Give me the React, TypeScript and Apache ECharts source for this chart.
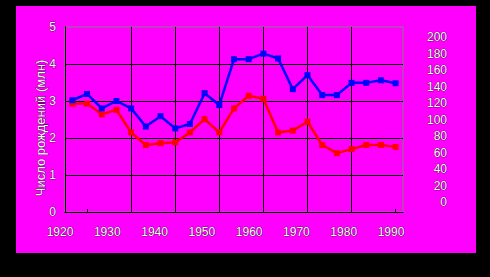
import React, { useEffect, useRef } from "react";
import * as echarts from "echarts";

// 23 observation points, evenly spaced (about 3.3 years apart)
const pointPeriods = [
  "1921", "1925", "1928", "1932", "1935", "1938", "1942", "1945", "1948", "1952",
  "1955", "1958", "1962", "1965", "1968", "1972", "1975", "1978", "1982", "1985",
  "1988", "1992", "1995",
];
const blueSeries = [
  3.02, 3.19, 2.8, 3.0, 2.8, 2.31, 2.59, 2.26, 2.38, 3.21,
  2.89, 4.13, 4.13, 4.28, 4.15, 3.32, 3.7, 3.16, 3.16, 3.49,
  3.49, 3.56, 3.48,
];
const redSeries = [
  2.93, 2.93, 2.64, 2.76, 2.15, 1.81, 1.86, 1.88, 2.15, 2.51,
  2.15, 2.8, 3.14, 3.06, 2.15, 2.2, 2.44, 1.81, 1.59, 1.7,
  1.81, 1.81, 1.76,
];
const xTickLabels = [1920, 1930, 1940, 1950, 1960, 1970, 1980, 1990];
const leftTicks = [0, 1, 2, 3, 4, 5];
const rightTicks = [0, 20, 40, 60, 80, 100, 120, 140, 160, 180, 200];
const yTitle = "Число рождений (млн)";

const FONT = "'Liberation Sans Narrow', 'Liberation Sans', Arial, sans-serif";
const labelStyle = {
  color: "#ffffff",
  textBorderColor: "#000000",
  textBorderWidth: 0.6,
  fontFamily: FONT,
  fontSize: 12,
};

export default function App() {
  const ref = useRef<HTMLDivElement>(null);
  useEffect(() => {
    document.body.style.margin = "0";
    const chart = echarts.init(ref.current!, undefined, { renderer: "svg" });
    const n = pointPeriods.length;
    const toPairs = (arr: number[]) => arr.map((v, i) => [i + 0.5, v]);
    const majorTickPositions: number[] = [];
    for (let t = 1.5; t < n; t += 3) majorTickPositions.push(t);

    chart.setOption({
      animation: false,
      backgroundColor: "#000000",
      graphic: [
        {
          type: "rect",
          z: -100,
          shape: { x: 16, y: 6, width: 460, height: 247 },
          style: { fill: "#ff00ff" },
          silent: true,
        },
      ],
      grid: [
        {
          left: 65, top: 27, width: 338, height: 185,
          show: true, borderColor: "#808080", borderWidth: 1,
          backgroundColor: "transparent",
        },
        { left: 60, top: 44, width: 331, height: 168 },
        { left: 455, top: 37, width: 10, height: 165 },
      ],
      xAxis: [
        {
          gridIndex: 0,
          type: "value",
          min: 0,
          max: n,
          interval: 3,
          axisLine: { show: true, lineStyle: { color: "#000000", width: 1 } },
          axisTick: {
            show: true,
            inside: true,
            length: 3,
            customValues: majorTickPositions,
            lineStyle: { color: "#000000" },
          },
          axisLabel: { show: false },
          splitLine: {
            show: true,
            showMinLine: false,
            showMaxLine: false,
            lineStyle: { color: "#000000", width: 1 },
          },
        },
        {
          gridIndex: 1,
          type: "value",
          min: xTickLabels[0],
          max: xTickLabels[xTickLabels.length - 1],
          interval: 10,
          axisLine: { show: false },
          axisTick: { show: false },
          splitLine: { show: false },
          axisLabel: {
            ...labelStyle,
            margin: 14,
            customValues: xTickLabels,
            formatter: (v: number) => String(v),
          },
        },
        {
          gridIndex: 2,
          type: "value",
          show: false,
        },
      ],
      yAxis: [
        {
          gridIndex: 0,
          type: "value",
          min: leftTicks[0],
          max: leftTicks[leftTicks.length - 1],
          interval: 1,
          axisLine: { show: true, lineStyle: { color: "#000000", width: 1 } },
          axisTick: { show: false },
          axisLabel: { ...labelStyle, margin: 9 },
          splitLine: {
            show: true,
            showMaxLine: false,
            lineStyle: { color: "#000000", width: 1 },
          },
        },
        {
          gridIndex: 1,
          type: "value",
          min: 0,
          max: 1,
          axisLine: { show: false },
          axisTick: { show: false },
          axisLabel: { show: false },
          splitLine: { show: false },
          name: yTitle,
          nameLocation: "middle",
          nameRotate: 90,
          nameGap: 13,
          nameTextStyle: { ...labelStyle, fontSize: 13 },
        },
        {
          gridIndex: 2,
          type: "value",
          min: rightTicks[0],
          max: rightTicks[rightTicks.length - 1],
          interval: 20,
          axisLine: { show: false },
          axisTick: { show: false },
          splitLine: { show: false },
          axisLabel: { ...labelStyle, margin: 8 },
        },
      ],
      series: [
        {
          name: "blue",
          type: "line",
          xAxisIndex: 0,
          yAxisIndex: 0,
          data: toPairs(blueSeries),
          symbol: "rect",
          symbolSize: 6,
          itemStyle: { color: "#0000ff" },
          lineStyle: { color: "#0000ff", width: 2.5 },
          z: 3,
        },
        {
          name: "red",
          type: "line",
          xAxisIndex: 0,
          yAxisIndex: 0,
          data: toPairs(redSeries),
          symbol: "rect",
          symbolSize: 6,
          itemStyle: { color: "#ff0000" },
          lineStyle: { color: "#ff0000", width: 2.5 },
          z: 2,
        },
      ],
    });
    return () => chart.dispose();
  }, []);
  return (
    <div
      ref={ref}
      style={{ position: "absolute", left: 0, top: 0, width: 490, height: 277 }}
    />
  );
}
